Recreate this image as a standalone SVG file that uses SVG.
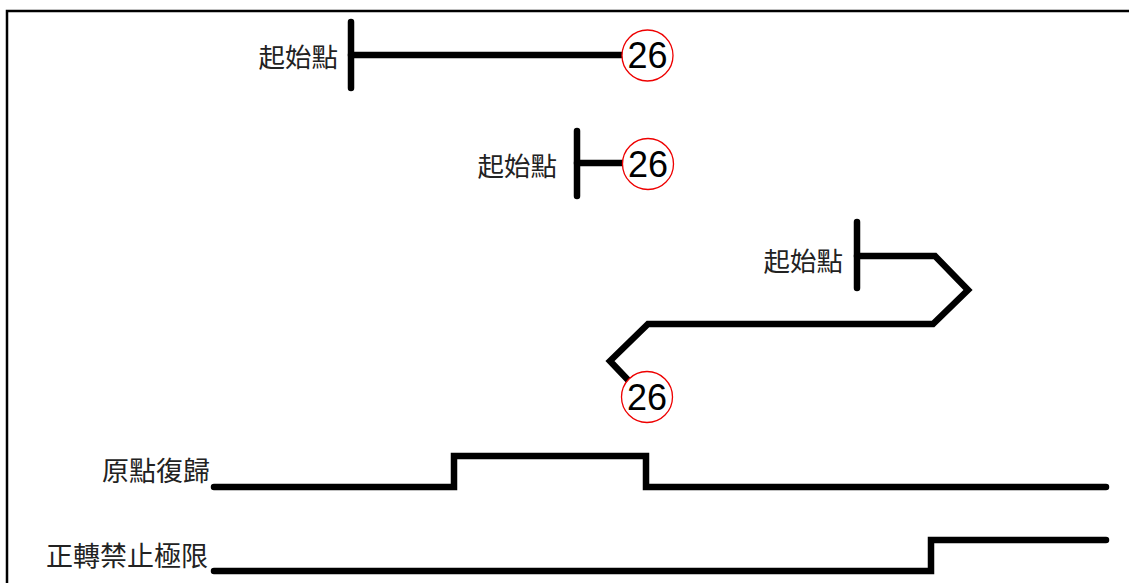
<svg xmlns="http://www.w3.org/2000/svg" width="1129" height="583" viewBox="0 0 1129 583">
<style>
.frame{fill:none;stroke:#000;stroke-width:2.5}
.thick{fill:none;stroke:#000;stroke-width:6.5;stroke-linecap:round;stroke-linejoin:miter}
.lbl{font-family:"Noto Sans CJK TC","Noto Sans CJK SC",sans-serif;font-size:26.5px;fill:#222;text-anchor:end}
.sig{font-family:"Noto Sans CJK TC","Noto Sans CJK SC",sans-serif;font-size:27px;fill:#222;text-anchor:end}
.circ{fill:#fff;stroke:#e00;stroke-width:1.3}
.num{font-family:"Liberation Sans",Arial,sans-serif;font-size:36px;fill:#000;text-anchor:middle}
</style>
<rect width="1129" height="583" fill="#fff"/>
<path class="frame" d="M7,583 V11 H1129"/>
<g id="connectors">
<path class="thick" d="M351,22 V88"/>
<path class="thick" d="M351,55 H623"/>
<path class="thick" d="M577,131 V196"/>
<path class="thick" d="M577,163 H624"/>
<path class="thick" d="M857,222 V288"/>
<path class="thick" d="M857,256 H935 L968,290 L933,324 H648 L610,361 L628,380"/>
<path class="thick" d="M214,487 H454 V456 H646 V487 H1106"/>
<path class="thick" d="M214,571 H931 V540 H1106"/>
</g>
<g id="start1"><text class="lbl" x="338" y="67">起始點</text></g>
<g id="start2"><text class="lbl" x="557" y="176">起始點</text></g>
<g id="start3"><text class="lbl" x="843" y="271">起始點</text></g>
<g id="n26a"><circle class="circ" cx="647.5" cy="55.5" r="25.5"/><text class="num" x="647.5" y="68">26</text></g>
<g id="n26b"><circle class="circ" cx="648" cy="164" r="25.5"/><text class="num" x="648" y="176.5">26</text></g>
<g id="n26c"><circle class="circ" cx="647" cy="397" r="25.5"/><text class="num" x="647" y="409.5">26</text></g>
<g id="sig1"><text class="sig" x="210" y="481">原點復歸</text></g>
<g id="sig2"><text class="sig" x="208" y="566">正轉禁止極限</text></g>
</svg>
